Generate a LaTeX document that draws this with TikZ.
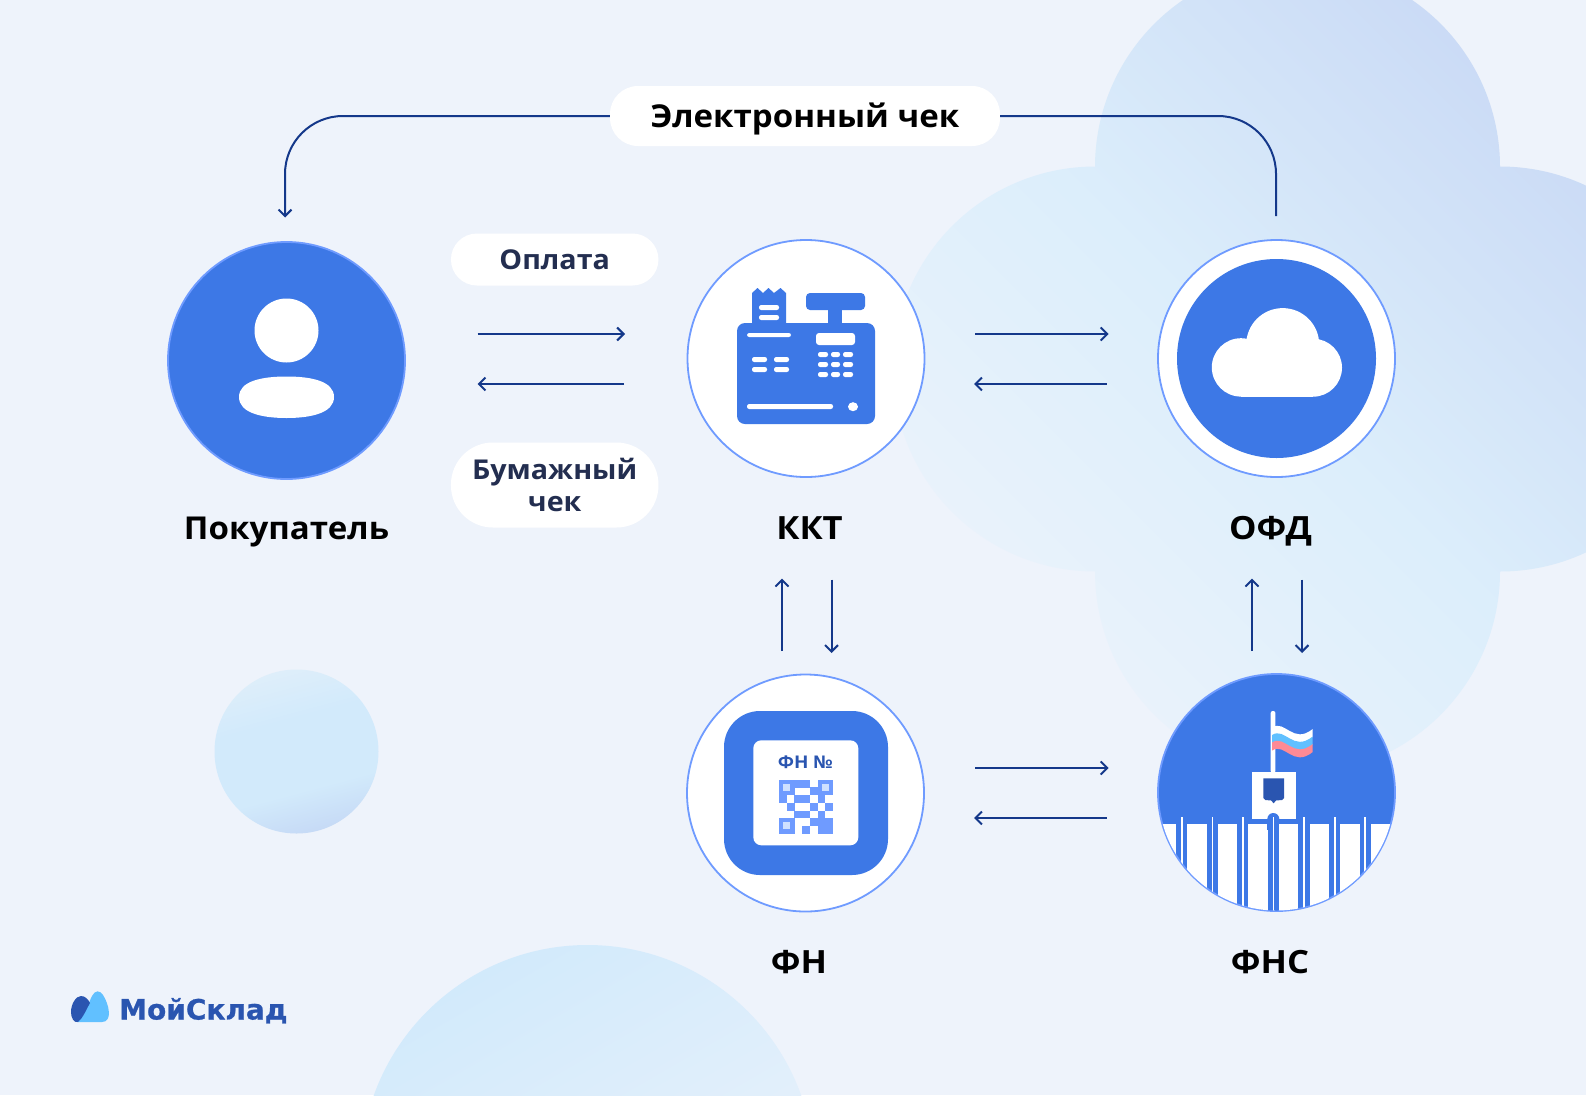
\documentclass[tikz,border=0pt]{standalone}
\usepackage{fontspec}
\setmainfont{Open Sans}
\newfontfamily\lblfont[FakeStretch=1.08]{Open Sans}
\newfontfamily\txtfont[FakeStretch=1.05]{Open Sans}
\newfontfamily\logofont[BoldFeatures={FakeBold=0.8}]{DejaVu Sans}
\usetikzlibrary{arrows.meta,calc}
\definecolor{bg}{HTML}{EEF3FB}
\definecolor{blueA}{HTML}{3D78E6}
\definecolor{ringC}{HTML}{6F9BFF}
\definecolor{navy}{HTML}{14388A}
\definecolor{ink}{HTML}{232E50}
\definecolor{logoD}{HTML}{2A55B0}
\definecolor{logoL}{HTML}{61C0FF}
\definecolor{flagR}{HTML}{FF8A95}
\definecolor{cA}{HTML}{EBF3FB}
\definecolor{cB}{HTML}{DCEEFB}
\definecolor{cC}{HTML}{C8D8F5}
\definecolor{sT}{HTML}{DEEEFA}
\definecolor{sA}{HTML}{D2EAFB}
\definecolor{sB}{HTML}{C6DAF6}
\definecolor{qrA}{HTML}{6F9BFF}
\definecolor{qrB}{HTML}{CFE0FF}
\pgfdeclarehorizontalshading{cloudg}{100bp}{color(0bp)=(cA); color(25bp)=(cA); color(48bp)=(cB); color(75bp)=(cC); color(100bp)=(cC)}
\pgfdeclareverticalshading{smallg}{100bp}{color(0bp)=(sB); color(25bp)=(sB); color(38bp)=(sA); color(60bp)=(sA); color(75bp)=(sT); color(100bp)=(sT)}
\tikzset{
  disc/.style={circle,minimum size=237pt,inner sep=0pt,draw=ringC,line width=1.8pt,fill=white},
  bluedisc/.style={disc,fill=blueA},
  lbl/.style={font=\lblfont\bfseries\fontsize{32}{36}\selectfont,text=black,inner sep=0pt,anchor=base},
  lblb/.style={font=\txtfont\bfseries\fontsize{31.5}{36}\selectfont,text=black,inner sep=0pt,anchor=base},
  pill/.style={fill=white,rounded corners=26pt,inner sep=0pt,align=center,text=ink,font=\txtfont\bfseries\fontsize{27.3}{32}\selectfont},
  arr/.style={draw=navy,line width=2pt,-{Straight Barb[length=6.5pt,width=13pt,line width=2pt]}},
  plain/.style={draw=navy,line width=2pt},
  wht/.style={fill=white,rounded corners=2.2pt},
}
\begin{document}
\begin{tikzpicture}[x=1pt,y=-1pt]
\useasboundingbox (0,0) rectangle (1586,1095);
\fill[bg] (0,0) rectangle (1586,1095);
\begin{scope}
\clip (0,0) rectangle (1586,1095);
% cloud
\begin{scope}
\clip (1297.5,167) circle (202.5) (1095.5,369) circle (202.5) (1500,369) circle (202.5) (1297.5,571.5) circle (202.5) (1297.5,369) circle (202.5);
\shade[shading=cloudg,shading angle=45] (893,-36) rectangle (1703,774);
\end{scope}
% lower circle
\begin{scope}
\clip (587.5,1172) circle (227);
\shade[left color=sA,right color=bg,shading angle=30] (360,945) rectangle (815,1400);
\end{scope}
% small circle
\shade[shading=smallg,shading angle=15] (296.5,751.5) circle (82);
\end{scope}

% discs
\node[bluedisc] (buyer) at (286.5,360.5) {};
\node[disc] (kkt) at (806,358.5) {};
\node[disc] (ofd) at (1276.5,358.5) {};
\node[disc] (fn) at (805.5,793) {};
\node[bluedisc] (fns) at (1276.5,792.5) {};

% buyer icon
\fill[white] (286.5,330.5) circle (32);
\fill[white] (239,397) .. controls (239,381) and (262,376.5) .. (286.5,376.5) .. controls (311,376.5) and (334,381) .. (334,397) .. controls (334,413) and (311,418) .. (286.5,418) .. controls (262,418) and (239,413) .. (239,397) -- cycle;

% kkt icon
\fill[blueA,rounded corners=8pt] (737,323) rectangle (875,424);
\fill[blueA] (752,330) -- (752,293) -- (757.5,288) -- (763,293) -- (768.5,288) -- (774,293) -- (780.5,288) -- (786,293) -- (786,330) -- cycle;
\fill[blueA] (828,305) rectangle (842,330);
\fill[blueA,rounded corners=4pt] (806,293) rectangle (865,310);
\foreach \a/\b/\c/\d in {759/305/779/310,759/315/779/320,747/333/791/337,752/357/767/362,774/357/789/362,752/367/767/372,774/367/789/372,747/404/833/409,818/352/828/357,831/352/840/357,843/352/853/357,818/362/828/367,831/362/840/367,843/362/853/367,818/372/828/377,831/372/840/377,843/372/853/377}
  \fill[wht] (\a,\b) rectangle (\c,\d);
\fill[white,rounded corners=3pt] (816,333) rectangle (855,345);
\fill[white] (853,406.7) ellipse (5 and 4.5);

% ofd icon
\fill[blueA] (1276.5,358.5) circle (99.5);
\fill[white] (1241,367.4) circle (29.2) (1282.7,344.6) circle (36.5) (1313,367.7) circle (29);
\fill[white] (1241,345) rectangle (1313,396.6);

% fn icon
\fill[blueA,rounded corners=36pt] (724,711) rectangle (888,875);
\fill[white,rounded corners=8pt] (753.3,740.3) rectangle (858.3,845.3);
\node[inner sep=0pt,text=logoD,font=\lblfont\bfseries\fontsize{17.5}{18}\selectfont] (fntext) at (805.3,762.7) {ФН №};
\foreach \r/\cols in {0/{0,1,2,3,5,6},1/{0,1,4,5,6},2/{0,2,3,5},3/{1,4,6},4/{2,3,5},5/{0,1,4,5,6},6/{0,1,3,5,6}}
  \foreach \k in \cols
    \fill[qrA] ({779+\k*7.71},{779.7+\r*7.71}) rectangle ++(7.9,7.9);
\foreach \a/\b in {783/783.7,821.7/783.7,783/822}
  \fill[qrB] (\a,\b) rectangle ++(7.3,7.3);

% fns icon
\begin{scope}
\clip (fns.center) circle (118);
\foreach \k in {-1,...,7}
  \fill[white] ({1150+112/3+(\k)*30.57},824) rectangle ++(19.3,100);
\foreach \k in {0,...,6}
  \fill[white] ({1181+(\k)*30.57},817) rectangle ++(1.8,100);
\end{scope}
\fill[white] (1252,771.7) rectangle (1295.7,819);
\fill[blueA] (1273.3,819) circle (6);
\fill[blueA] (1267.3,819) rectangle (1279.3,830);
\begin{scope}
\clip (fns.center) circle (118);
\fill[blueA] (1267.6,824) rectangle (1279,930);
\fill[white] (1272.6,817) rectangle (1274.4,930);
\end{scope}
\fill[white,rounded corners=2pt] (1270.7,711) rectangle (1275.4,773);
\fill[logoD] (1263.3,778.3) -- (1284,778.3) -- (1284,798) -- (1282,800) -- (1276,800.5) -- (1273.6,803.3) -- (1271.2,800.5) -- (1265.3,800) -- (1263.3,798) -- cycle;
\foreach \y/\cc in {0/white,7.5/logoL,15/flagR}
  \fill[\cc] (1272,{727.5+\y}) .. controls (1285,{719+\y}) and (1293,{745+\y}) .. (1312.7,{729+\y}) -- (1312.7,{737+\y}) .. controls (1293,{753+\y}) and (1285,{727+\y}) .. (1272,{735.5+\y}) -- cycle;

% labels
\node[lblb] (lbuyer) at (286.5,539.5) {Покупатель};
\node[lbl] (lkkt) at (809.5,539.5) {ККТ};
\node[lbl] (lofd) at (1270.5,539.5) {ОФД};
\node[lbl] (lfn) at (799,973.5) {ФН};
\node[lbl] (lfns) at (1270,973.5) {ФНС};

% pills
\node[pill,minimum width=390pt,minimum height=60pt,rounded corners=28pt] (pe) at (805,116) {};
\node[lblb] (pet) at (805,127.5) {Электронный чек};
\node[pill,minimum width=207.5pt,minimum height=52pt] (po) at (554.7,259.5) {Оплата};
\node[pill,minimum width=207.5pt,minimum height=85pt,rounded corners=42pt] (pb) at (554.7,485) {Бумажный\\чек};

% connector ends
\coordinate (t1) at (285,217.5);
\coordinate (t2) at (1276,216);
\coordinate (a1) at (477.5,334); \coordinate (a2) at (625,334);
\coordinate (b1) at (624,384); \coordinate (b2) at (477.5,384);
\coordinate (c1) at (975,334); \coordinate (c2) at (1108.6,334);
\coordinate (d1) at (1106.6,384); \coordinate (d2) at (974,384);
\coordinate (e1) at (782,651); \coordinate (e2) at (782,578.6);
\coordinate (f1) at (831.5,579.6); \coordinate (f2) at (831.5,653);
\coordinate (g1) at (1252,651); \coordinate (g2) at (1252,578.6);
\coordinate (h1) at (1302,579.6); \coordinate (h2) at (1302,653);
\coordinate (i1) at (975,768); \coordinate (i2) at (1108.6,768);
\coordinate (j1) at (1106.6,818); \coordinate (j2) at (974,818);

\draw[arr,rounded corners=58pt] (pe.west) -- (285,116) -- (t1);
\draw[plain,rounded corners=58pt] (pe.east) -- (1276,116) -- (t2);
\foreach \p/\q in {a1/a2,b1/b2,c1/c2,d1/d2,e1/e2,f1/f2,g1/g2,h1/h2,i1/i2,j1/j2}
  \draw[arr] (\p) -- (\q);

% logo
\fill[logoL] (77,1022) .. controls (84,1018) and (88,1004) .. (92,996) .. controls (95,990) and (100,990) .. (103,995) .. controls (109,1004) and (113,1022) .. (102,1022) -- cycle;
\fill[logoD] (71,1012) .. controls (71,1004) and (76,996) .. (81,996) .. controls (85,996) and (88,999) .. (90,1003) .. controls (86,1010) and (83,1018) .. (78,1022) .. controls (74,1023) and (71,1018) .. (71,1012) -- cycle;
\node[inner sep=0pt,anchor=base west,text=logoD,font=\logofont\bfseries\fontsize{28}{29}\selectfont] (logo) at (119,1019.5) {МойСклад};
\end{tikzpicture}
\end{document}
